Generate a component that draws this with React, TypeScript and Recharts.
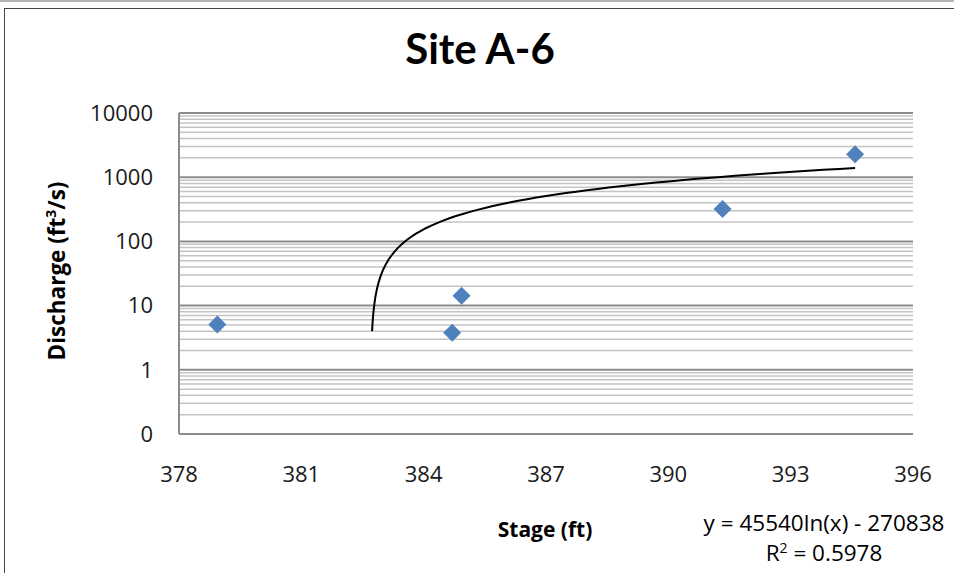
// Site A-6 stage–discharge scatter with log trendline (Excel-style look).

import {
  ComposedChart, Scatter, XAxis, YAxis, ReferenceLine,
} from "recharts";

// ── Data ────────────────────────────────────────────────────────────────────

const STAGE_FT = [378.94, 384.7, 384.93, 391.33, 394.58];
const DISCHARGE_CFS = [5.07, 3.76, 14.3, 321, 2280];

// Trendline as displayed: y = 45540 ln(x) - 270838
const TREND_A = 45540;
const TREND_B = -270838;
const TREND_R2 = "0.5978";

const X_TICKS = [378, 381, 384, 387, 390, 393, 396];
const Y_TICKS = [0.1, 1, 10, 100, 1000, 10000];
const MINOR_STEPS = [2, 3, 4, 5, 6, 7, 8, 9];

// ── Derived tables ──────────────────────────────────────────────────────────

const points = STAGE_FT.map((x, i) => ({ x, y: DISCHARGE_CFS[i] }));

// Excel only draws the curve where it stays above the axis floor (~4 cfs here)
const trendStart = Math.exp((4 - TREND_B) / TREND_A);
const trendEnd = Math.max(...STAGE_FT);
const trend = Array.from({ length: 61 }, (_, i) => {
  const t = i / 60;
  const x = trendStart + (trendEnd - trendStart) * t * t;
  return { x, y: TREND_A * Math.log(x) + TREND_B };
});

const minorGrid = Y_TICKS.slice(0, -1).flatMap(d => MINOR_STEPS.map(m => d * m));

const FONT = "'Open Sans', Lato, sans-serif";
const AXIS_TICK = { fontSize: 22, fill: "#1a1a1a", fontFamily: FONT };
const BLUE = "#4F81BD";

const Diamond = (props: any) => {
  const { cx, cy } = props;
  if (cx == null || cy == null) return <g />;
  const r = 9;
  return (
    <polygon
      points={`${cx},${cy - r} ${cx + r},${cy} ${cx},${cy + r} ${cx - r},${cy}`}
      fill={BLUE}
    />
  );
};

const NoDot = () => <g />;

export default function App() {
  return (
    <div style={{ position: "absolute", left: 0, top: 0, width: 954, height: 573, background: "#fff", overflow: "hidden", fontFamily: FONT }}>
      <div style={{ position: "absolute", left: 0, top: 0, width: 954, height: 2, background: "#b5b5b5" }} />
      <div style={{ position: "absolute", left: 4, top: 8, width: 1000, height: 600, borderLeft: "1px solid #444", borderTop: "1px solid #444" }} />

      <div style={{ position: "absolute", left: 0, top: 23, width: 960, textAlign: "center", fontSize: 42, fontWeight: 700, color: "#000", fontFamily: "Lato, sans-serif" }}>
        Site A-6
      </div>

      <ComposedChart
        width={954}
        height={573}
        margin={{ top: 113, right: 41, left: 100, bottom: 79 }}
        style={{ position: "absolute", left: 0, top: 0 }}
      >
        <XAxis
          type="number"
          dataKey="x"
          domain={[378, 396]}
          ticks={X_TICKS}
          interval={0}
          tick={AXIS_TICK}
          tickLine={false}
          tickSize={0}
          tickMargin={32}
          axisLine={{ stroke: "#8c8c8c", strokeWidth: 2 }}
          height={60}
          allowDataOverflow
        />
        <YAxis
          type="number"
          dataKey="y"
          scale="log"
          domain={[0.1, 10000]}
          ticks={Y_TICKS}
          interval={0}
          tick={AXIS_TICK}
          tickLine={false}
          tickSize={0}
          tickMargin={26}
          tickFormatter={(v: number) => (v < 1 ? "0" : String(v))}
          axisLine={{ stroke: "#8c8c8c", strokeWidth: 2 }}
          width={79}
          allowDataOverflow
        />
        {minorGrid.map(v => (
          <ReferenceLine key={`m${v}`} y={v} stroke="#c4c4c4" strokeWidth={1.5} />
        ))}
        {Y_TICKS.slice(1).map(v => (
          <ReferenceLine key={`M${v}`} y={v} stroke="#8c8c8c" strokeWidth={2} />
        ))}
        <Scatter
          data={trend}
          line={{ stroke: "#000", strokeWidth: 2 }}
          shape={NoDot}
          isAnimationActive={false}
        />
        <Scatter data={points} shape={Diamond} isAnimationActive={false} />
      </ComposedChart>

      <div
        style={{
          position: "absolute", left: 56, top: 271, transform: "translate(-50%, -50%) rotate(-90deg)",
          whiteSpace: "nowrap", fontSize: 22.5, fontWeight: 700, color: "#000",
        }}
      >
        Discharge (ft<sup style={{ fontSize: 14 }}>3</sup>/s)
      </div>

      <div style={{ position: "absolute", left: 545, top: 529, transform: "translate(-50%, -50%)", fontSize: 21, fontWeight: 700, color: "#000", whiteSpace: "nowrap" }}>
        Stage (ft)
      </div>

      <div style={{ position: "absolute", left: 824, top: 508, transform: "translateX(-50%)", fontSize: 22.5, color: "#000", textAlign: "center", lineHeight: "30px", whiteSpace: "nowrap" }}>
        y = {TREND_A}ln(x) - {-TREND_B}
        <br />
        R<sup style={{ fontSize: 14, lineHeight: 0 }}>2</sup> = {TREND_R2}
      </div>
    </div>
  );
}
